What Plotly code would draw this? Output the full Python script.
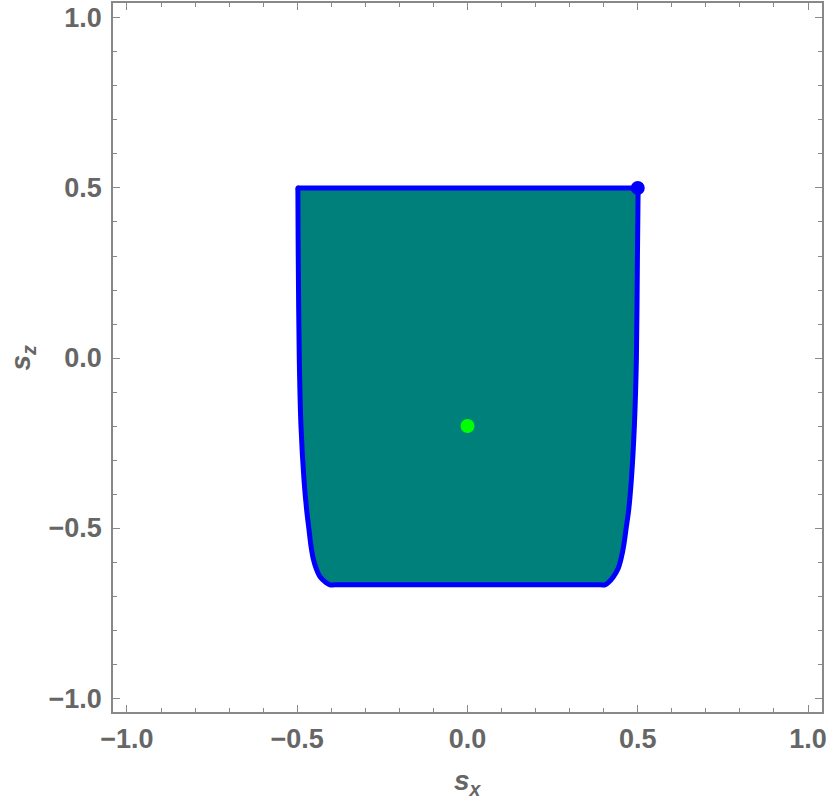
import plotly.graph_objects as go

# right boundary of the region, top to bottom
right_sz = [0.5, 0.49, 0.3, 0.0, -0.2, -0.36, -0.45, -0.5, -0.55, -0.59, -0.62, -0.644, -0.66, -0.667, -0.667]
right_sx = [0.501, 0.501, 0.499, 0.496, 0.490, 0.481, 0.473, 0.466, 0.459, 0.451, 0.442, 0.428, 0.414, 0.404, 0.39]

# left boundary, bottom to top
left_sz = [-0.667, -0.667, -0.66, -0.645, -0.62, -0.59, -0.55, -0.5, -0.45, -0.36, -0.2, 0.0, 0.3, 0.49, 0.5]
left_sx = [-0.39, -0.404, -0.416, -0.432, -0.444, -0.453, -0.460, -0.466, -0.472, -0.480, -0.489, -0.494, -0.497, -0.498, -0.498]

# top edge, left to right
top_sx = [-0.49, -0.3, 0.0, 0.3, 0.49]
top_sz = [0.5, 0.5, 0.5, 0.5, 0.5]

corner_point = (0.5, 0.5)
center_point = (0.0, -0.2)

boundary_x = right_sx + left_sx + top_sx + [right_sx[0]]
boundary_y = right_sz + left_sz + top_sz + [right_sz[0]]

fig = go.Figure()

fig.add_trace(
    go.Scatter(
        x=boundary_x,
        y=boundary_y,
        mode="lines",
        fill="toself",
        fillcolor="rgb(0,128,122)",
        line=dict(color="rgb(0,0,255)", width=5, shape="spline", smoothing=0.8),
        hoverinfo="skip",
    )
)

fig.add_trace(
    go.Scatter(
        x=[corner_point[0]],
        y=[corner_point[1]],
        mode="markers",
        marker=dict(color="rgb(0,0,255)", size=14),
    )
)

fig.add_trace(
    go.Scatter(
        x=[center_point[0]],
        y=[center_point[1]],
        mode="markers",
        marker=dict(color="rgb(0,255,0)", size=14),
    )
)

label_font = dict(family="Liberation Sans", size=27, color="#666666", weight="bold")

axis_style = dict(
    automargin=False,
    showgrid=False,
    zeroline=False,
    showline=True,
    linecolor="#888888",
    linewidth=1.5,
    mirror="ticks",
    ticks="inside",
    ticklen=7,
    tickcolor="#888888",
    tickwidth=1,
    tickvals=[-1.0, -0.5, 0.0, 0.5, 1.0],
    tickformat=".1f",
    tickfont=label_font,
    minor=dict(
        ticks="inside",
        ticklen=4,
        tickcolor="#888888",
        tickvals=[round(-1.0 + 0.1 * i, 1) for i in range(21)],
    ),
)

fig.update_xaxes(range=[-1.041, 1.041], ticklabelstandoff=2, **axis_style)
fig.update_yaxes(range=[-1.041, 1.044], ticklabelstandoff=4, **axis_style)

# axis titles
fig.add_annotation(
    text="<i>s</i><sub><i>x</i></sub>",
    xref="paper", yref="paper",
    x=0.5, y=-0.099,
    xanchor="center", yanchor="middle",
    showarrow=False,
    font=dict(label_font, size=28),
)
fig.add_annotation(
    text="<i>s</i><sub><i>z</i></sub>",
    xref="paper", yref="paper",
    x=-0.127, y=0.5,
    xanchor="center", yanchor="middle",
    textangle=-90,
    showarrow=False,
    font=dict(label_font, size=28),
)

fig.update_layout(
    width=830,
    height=803,
    margin=dict(l=113, r=8, t=3, b=91),
    plot_bgcolor="white",
    paper_bgcolor="white",
    showlegend=False,
)

fig.write_html(
    "out.html",
    config={"displayModeBar": False},
    post_script="document.body.style.margin='0';",
)
